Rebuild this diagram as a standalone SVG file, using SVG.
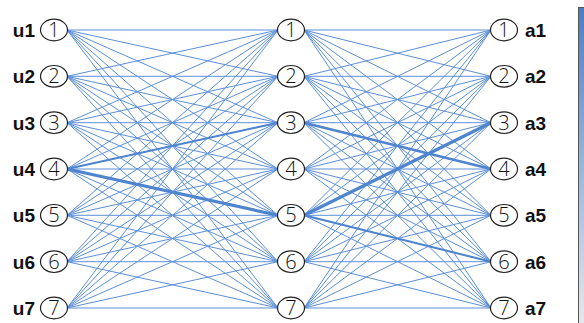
<svg xmlns="http://www.w3.org/2000/svg" width="584" height="323" viewBox="0 0 584 323">
<defs>
<style>
.e{stroke:#5b8fd8;stroke-width:1;fill:none}
.t1{stroke:#4f84cf;stroke-width:2;fill:none}
.t2{stroke:#4f84cf;stroke-width:3.2;fill:none}
.n ellipse{fill:#fff;stroke:#222;stroke-width:1.2}
.d{font-family:"Open Sans","Liberation Sans",sans-serif;font-weight:300;font-size:20px;fill:#111;text-anchor:middle}
.l{font-family:"Liberation Sans",Arial,sans-serif;font-size:19px;font-weight:bold;fill:#111}
.r{text-anchor:end}
</style>
<linearGradient id="bar" x1="0" y1="0" x2="0" y2="1">
<stop offset="0" stop-color="#4a7dc6"/>
<stop offset="0.5" stop-color="#9ab6dc"/>
<stop offset="1" stop-color="#e6e8ec"/>
</linearGradient>
</defs>
<rect width="584" height="323" fill="#fff"/>
<rect x="578.5" y="7.5" width="7" height="318" fill="url(#bar)" stroke="#555" stroke-width="1"/>
<g id="connectors">
<path class="e" d="M67 30L278 30M67 30L278 76.3M67 30L278 122.7M67 30L278 169M67 30L278 215.3M67 30L278 261.7M67 30L278 308
M67 76.3L278 30M67 76.3L278 76.3M67 76.3L278 122.7M67 76.3L278 169M67 76.3L278 215.3M67 76.3L278 261.7M67 76.3L278 308
M67 122.7L278 30M67 122.7L278 76.3M67 122.7L278 122.7M67 122.7L278 169M67 122.7L278 215.3M67 122.7L278 261.7M67 122.7L278 308
M67 169L278 30M67 169L278 76.3M67 169L278 122.7M67 169L278 169M67 169L278 215.3M67 169L278 261.7M67 169L278 308
M67 215.3L278 30M67 215.3L278 76.3M67 215.3L278 122.7M67 215.3L278 169M67 215.3L278 215.3M67 215.3L278 261.7M67 215.3L278 308
M67 261.7L278 30M67 261.7L278 76.3M67 261.7L278 122.7M67 261.7L278 169M67 261.7L278 215.3M67 261.7L278 261.7M67 261.7L278 308
M67 308L278 30M67 308L278 76.3M67 308L278 122.7M67 308L278 169M67 308L278 215.3M67 308L278 261.7M67 308L278 308"/>
<path class="e" d="M304 30L491 30M304 30L491 76.3M304 30L491 122.7M304 30L491 169M304 30L491 215.3M304 30L491 261.7M304 30L491 308
M304 76.3L491 30M304 76.3L491 76.3M304 76.3L491 122.7M304 76.3L491 169M304 76.3L491 215.3M304 76.3L491 261.7M304 76.3L491 308
M304 122.7L491 30M304 122.7L491 76.3M304 122.7L491 122.7M304 122.7L491 169M304 122.7L491 215.3M304 122.7L491 261.7M304 122.7L491 308
M304 169L491 30M304 169L491 76.3M304 169L491 122.7M304 169L491 169M304 169L491 215.3M304 169L491 261.7M304 169L491 308
M304 215.3L491 30M304 215.3L491 76.3M304 215.3L491 122.7M304 215.3L491 169M304 215.3L491 215.3M304 215.3L491 261.7M304 215.3L491 308
M304 261.7L491 30M304 261.7L491 76.3M304 261.7L491 122.7M304 261.7L491 169M304 261.7L491 215.3M304 261.7L491 261.7M304 261.7L491 308
M304 308L491 30M304 308L491 76.3M304 308L491 122.7M304 308L491 169M304 308L491 215.3M304 308L491 261.7M304 308L491 308"/>
<path class="t1" d="M67 169L278 122.7M304 215.3L491 261.7"/>
<path class="t1" d="M304 122.7L491 169" style="stroke-width:2.6"/>
<path class="t2" d="M67 169L278 215.3M304 215.3L491 122.7"/>
</g>
<g id="u1" class="n"><text class="l r" x="35" y="37">u1</text><ellipse cx="54" cy="30" rx="13.5" ry="10.8"/><text class="d" x="54" y="37">1</text></g>
<g id="u2" class="n"><text class="l r" x="35" y="83.3">u2</text><ellipse cx="54" cy="76.3" rx="13.5" ry="10.8"/><text class="d" x="54" y="83.3">2</text></g>
<g id="u3" class="n"><text class="l r" x="35" y="129.7">u3</text><ellipse cx="54" cy="122.7" rx="13.5" ry="10.8"/><text class="d" x="54" y="129.7">3</text></g>
<g id="u4" class="n"><text class="l r" x="35" y="176">u4</text><ellipse cx="54" cy="169" rx="13.5" ry="10.8"/><text class="d" x="54" y="176">4</text></g>
<g id="u5" class="n"><text class="l r" x="35" y="222.3">u5</text><ellipse cx="54" cy="215.3" rx="13.5" ry="10.8"/><text class="d" x="54" y="222.3">5</text></g>
<g id="u6" class="n"><text class="l r" x="35" y="268.7">u6</text><ellipse cx="54" cy="261.7" rx="13.5" ry="10.8"/><text class="d" x="54" y="268.7">6</text></g>
<g id="u7" class="n"><text class="l r" x="35" y="315">u7</text><ellipse cx="54" cy="308" rx="13.5" ry="10.8"/><text class="d" x="54" y="315">7</text></g>
<g id="m1" class="n"><ellipse cx="291" cy="30" rx="13.5" ry="10.8"/><text class="d" x="291" y="37">1</text></g>
<g id="m2" class="n"><ellipse cx="291" cy="76.3" rx="13.5" ry="10.8"/><text class="d" x="291" y="83.3">2</text></g>
<g id="m3" class="n"><ellipse cx="291" cy="122.7" rx="13.5" ry="10.8"/><text class="d" x="291" y="129.7">3</text></g>
<g id="m4" class="n"><ellipse cx="291" cy="169" rx="13.5" ry="10.8"/><text class="d" x="291" y="176">4</text></g>
<g id="m5" class="n"><ellipse cx="291" cy="215.3" rx="13.5" ry="10.8"/><text class="d" x="291" y="222.3">5</text></g>
<g id="m6" class="n"><ellipse cx="291" cy="261.7" rx="13.5" ry="10.8"/><text class="d" x="291" y="268.7">6</text></g>
<g id="m7" class="n"><ellipse cx="291" cy="308" rx="13.5" ry="10.8"/><text class="d" x="291" y="315">7</text></g>
<g id="a1" class="n"><ellipse cx="504" cy="30" rx="13.5" ry="10.8"/><text class="d" x="504" y="37">1</text><text class="l" x="525" y="37">a1</text></g>
<g id="a2" class="n"><ellipse cx="504" cy="76.3" rx="13.5" ry="10.8"/><text class="d" x="504" y="83.3">2</text><text class="l" x="525" y="83.3">a2</text></g>
<g id="a3" class="n"><ellipse cx="504" cy="122.7" rx="13.5" ry="10.8"/><text class="d" x="504" y="129.7">3</text><text class="l" x="525" y="129.7">a3</text></g>
<g id="a4" class="n"><ellipse cx="504" cy="169" rx="13.5" ry="10.8"/><text class="d" x="504" y="176">4</text><text class="l" x="525" y="176">a4</text></g>
<g id="a5" class="n"><ellipse cx="504" cy="215.3" rx="13.5" ry="10.8"/><text class="d" x="504" y="222.3">5</text><text class="l" x="525" y="222.3">a5</text></g>
<g id="a6" class="n"><ellipse cx="504" cy="261.7" rx="13.5" ry="10.8"/><text class="d" x="504" y="268.7">6</text><text class="l" x="525" y="268.7">a6</text></g>
<g id="a7" class="n"><ellipse cx="504" cy="308" rx="13.5" ry="10.8"/><text class="d" x="504" y="315">7</text><text class="l" x="525" y="315">a7</text></g>
</svg>
